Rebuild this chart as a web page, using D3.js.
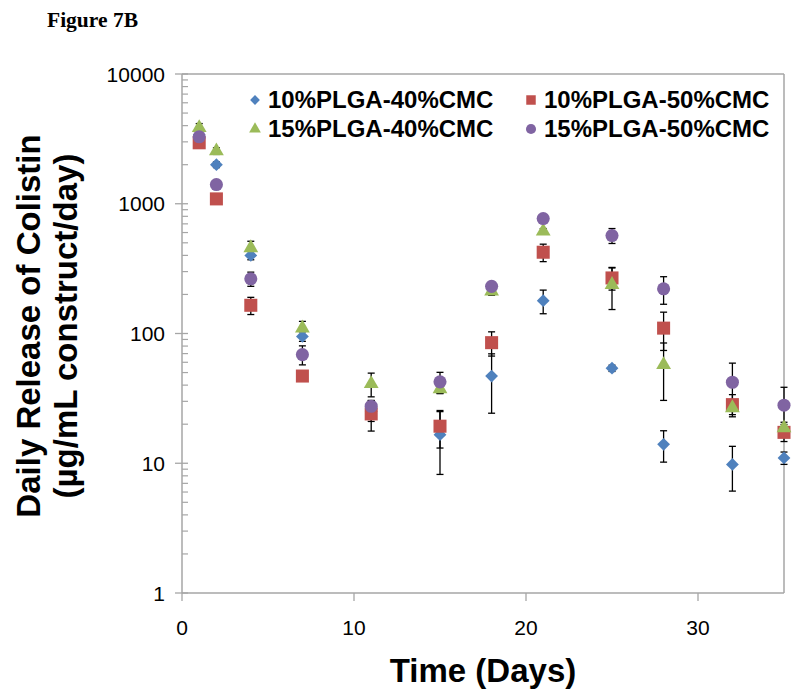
<!DOCTYPE html>
<html>
<head>
<meta charset="utf-8">
<script src="https://cdn.jsdelivr.net/npm/d3@7"></script>
<style>
  body { margin: 0; background: #fff; }
  svg { display: block; }
</style>
</head>
<body>
<svg id="chart" width="800" height="700"></svg>
<script>
// ---- Data ----
const days = [1, 2, 4, 7, 11, 15, 18, 21, 25, 28, 32, 35];

const seriesNames = ["10%PLGA-40%CMC", "10%PLGA-50%CMC", "15%PLGA-40%CMC", "15%PLGA-50%CMC"];

const plga10cmc40 = [3400, 2000, 400, 95, 25, 16.6, 47, 179, 54, 14, 9.8, 11];
const plga10cmc50 = [2950, 1090, 165, 47, 24, 19.3, 85, 423, 268, 110, 28.3, 17.3];
const plga15cmc40 = [3850, 2550, 457, 110, 41, 37.4, 212, 614, 238, 57.5, 26.7, 18.7];
const plga15cmc50 = [3280, 1406, 264, 68.8, 27.5, 42.4, 231, 769, 569, 221, 42.1, 28];

const err10cmc40 = [200, 100, 30, 8, 4, 8.4, 22.7, 37, 3, 3.8, 3.7, 1.2];
const err10cmc50 = [200, 60, 25, 3, 6.3, 6.2, 18, 65, 52, 36, 5.5, 2.6];
const err15cmc40 = [300, 150, 57, 14, 8.5, 3, 15, 30, 85, 27, 3, 2];
const err15cmc50 = [200, 100, 33, 11.5, 3, 7.8, 20, 40, 75, 53, 17, 10.5];

const yTickValues = [1, 10, 100, 1000, 10000];
const xTickValues = [0, 10, 20, 30];

// ---- Setup ----
const svg = d3.select("#chart");
const pLeft = 182, pRight = 784, pTop = 74, pBottom = 593;

const x = d3.scaleLinear().domain([0, 35]).range([pLeft, pRight]);
const y = d3.scaleLog().domain([1, 10000]).range([pBottom, pTop]);

const colors = ["#4F81BD", "#C0504D", "#9BBB59", "#8064A2"];
const values = [plga10cmc40, plga10cmc50, plga15cmc40, plga15cmc50];
const errors = [err10cmc40, err10cmc50, err15cmc40, err15cmc50];

const symbols = [
  { type: d3.symbolSquare, size: 82, rotate: 45 },
  { type: d3.symbolSquare, size: 170, rotate: 0 },
  { type: d3.symbolTriangle, size: 95, rotate: 0 },
  { type: d3.symbolCircle, size: 135, rotate: 0 }
];
const legendSizes = [48, 90, 60, 80];

const series = seriesNames.map((name, i) => ({
  name, color: colors[i], sym: symbols[i],
  points: days.map((d, j) => ({ day: d, v: values[i][j], e: errors[i][j] }))
}));

const axisColor = "#A6A6A6";

// Frame (top and right)
svg.append("line").attr("x1", pLeft).attr("x2", pRight).attr("y1", pTop).attr("y2", pTop)
  .attr("stroke", axisColor).attr("stroke-width", 1.5);
svg.append("line").attr("x1", pRight).attr("x2", pRight).attr("y1", pTop).attr("y2", pBottom)
  .attr("stroke", axisColor).attr("stroke-width", 1.5);

// Y axis (log) with major/minor ticks
const yAxisG = svg.append("g").attr("transform", `translate(${pLeft},0)`);
yAxisG.append("line").attr("x1", 0).attr("x2", 0).attr("y1", pTop).attr("y2", pBottom)
  .attr("stroke", axisColor).attr("stroke-width", 1.5);
const minorTicks = [];
for (let dec = 1; dec < 10000; dec *= 10) {
  for (let k = 2; k <= 9; k++) minorTicks.push(dec * k);
}
yAxisG.selectAll(".minor").data(minorTicks).join("line")
  .attr("x1", 0).attr("x2", 6).attr("y1", d => y(d)).attr("y2", d => y(d))
  .attr("stroke", axisColor).attr("stroke-width", 1.2);
yAxisG.selectAll(".major").data(yTickValues).join("line")
  .attr("x1", -7).attr("x2", 6).attr("y1", d => y(d)).attr("y2", d => y(d))
  .attr("stroke", axisColor).attr("stroke-width", 1.3);
yAxisG.selectAll(".ylab").data(yTickValues).join("text")
  .attr("x", -17).attr("y", d => y(d)).attr("dy", "0.36em")
  .attr("text-anchor", "end")
  .attr("font-family", "Liberation Sans, Arial, sans-serif")
  .attr("font-size", 21).attr("fill", "#000")
  .text(d => String(d));

// X axis
const xAxisG = svg.append("g").attr("transform", `translate(0,${pBottom})`);
xAxisG.append("line").attr("x1", pLeft).attr("x2", pRight).attr("y1", 0).attr("y2", 0)
  .attr("stroke", axisColor).attr("stroke-width", 1.5);
xAxisG.selectAll(".xt").data(xTickValues).join("line")
  .attr("x1", d => x(d)).attr("x2", d => x(d)).attr("y1", 0).attr("y2", 8)
  .attr("stroke", axisColor).attr("stroke-width", 1.3);
xAxisG.selectAll(".xlab").data(xTickValues).join("text")
  .attr("x", d => x(d)).attr("y", 42)
  .attr("text-anchor", "middle")
  .attr("font-family", "Liberation Sans, Arial, sans-serif")
  .attr("font-size", 21).attr("fill", "#000")
  .text(d => String(d));

// Error bars (drawn below markers)
const eb = svg.append("g");
series.forEach(s => {
  s.points.forEach(p => {
    if (!p.e) return;
    const lo = Math.max(p.v - p.e, 1), hi = p.v + p.e;
    const cx = x(p.day);
    eb.append("line").attr("x1", cx).attr("x2", cx).attr("y1", y(lo)).attr("y2", y(hi))
      .attr("stroke", "#000").attr("stroke-width", 1.3);
    [lo, hi].forEach(v => {
      eb.append("line").attr("x1", cx - 3.5).attr("x2", cx + 3.5).attr("y1", y(v)).attr("y2", y(v))
        .attr("stroke", "#000").attr("stroke-width", 1.3);
    });
  });
});

// Markers
series.forEach(s => {
  const gen = d3.symbol().type(s.sym.type).size(s.sym.size);
  svg.append("g").selectAll("path").data(s.points).join("path")
    .attr("d", gen)
    .attr("transform", p => `translate(${x(p.day)},${y(p.v)}) rotate(${s.sym.rotate})`)
    .attr("fill", s.color);
});

// Legend
const legendPos = [
  { mx: 255, tx: 268, ty: 108 },
  { mx: 531, tx: 544, ty: 108 },
  { mx: 255, tx: 268, ty: 137 },
  { mx: 531, tx: 544, ty: 137 }
];
series.forEach((s, i) => {
  const lp = legendPos[i];
  const gen = d3.symbol().type(s.sym.type).size(legendSizes[i]);
  svg.append("path").attr("d", gen)
    .attr("transform", `translate(${lp.mx},${lp.ty - 8}) rotate(${s.sym.rotate})`)
    .attr("fill", s.color);
  svg.append("text").attr("x", lp.tx).attr("y", lp.ty)
    .attr("font-family", "Liberation Sans, Arial, sans-serif")
    .attr("font-weight", "bold").attr("font-size", 24).attr("fill", "#000")
    .text(s.name);
});

// Axis titles
svg.append("text")
  .attr("x", (pLeft + pRight) / 2).attr("y", 682)
  .attr("text-anchor", "middle")
  .attr("font-family", "Liberation Sans, Arial, sans-serif")
  .attr("font-weight", "bold").attr("font-size", 33).attr("fill", "#000")
  .text("Time (Days)");

const yTitle = svg.append("text")
  .attr("transform", "translate(0,326) rotate(-90)")
  .attr("text-anchor", "middle")
  .attr("font-family", "Liberation Sans, Arial, sans-serif")
  .attr("font-weight", "bold").attr("font-size", 33).attr("fill", "#000");
yTitle.append("tspan").attr("x", 0).attr("y", 40).text("Daily Release of Colistin");
yTitle.append("tspan").attr("x", 0).attr("y", 77).text("(µg/mL construct/day)");

// Figure label
svg.append("text").attr("x", 47).attr("y", 27)
  .attr("font-family", "Liberation Serif, Times New Roman, serif")
  .attr("font-weight", "bold").attr("font-size", 21.5).attr("fill", "#000")
  .text("Figure 7B");
</script>
</body>
</html>
